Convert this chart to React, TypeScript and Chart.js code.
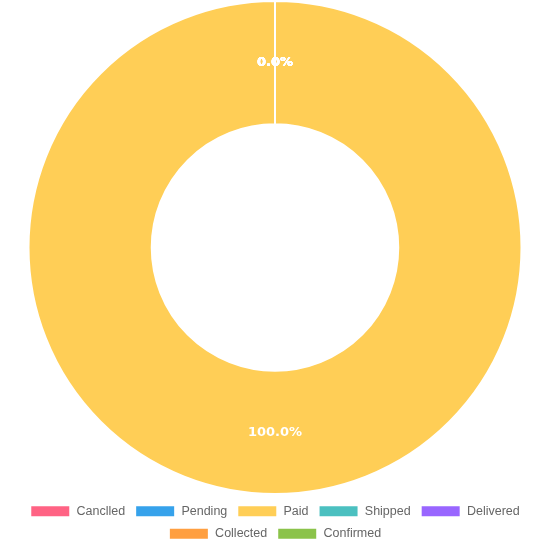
import React, { useEffect, useRef } from "react";
import { Chart, registerables } from "chart.js";

Chart.register(...registerables);

const categories = ["Canclled", "Pending", "Paid", "Shipped", "Delivered", "Collected", "Confirmed"];
const values = [0, 0, 100, 0, 0, 0, 0];
const colors = [
  "rgb(255, 99, 132)",
  "rgb(54, 162, 235)",
  "rgb(255, 206, 86)",
  "rgb(75, 192, 192)",
  "rgb(153, 102, 255)",
  "rgb(255, 159, 64)",
  "rgb(139, 195, 74)",
];

const pctLabels = {
  id: "pctLabels",
  afterDatasetsDraw(chart: any) {
    const ctx = chart.ctx;
    const meta = chart.getDatasetMeta(0);
    const data = chart.data.datasets[0].data as number[];
    const total = data.reduce((a, b) => a + b, 0);
    ctx.save();
    ctx.fillStyle = "#fff";
    ctx.font = "bold 13px 'DejaVu Sans', sans-serif";
    ctx.textAlign = "center";
    ctx.textBaseline = "middle";
    meta.data.forEach((arc: any, i: number) => {
      const p = arc.tooltipPosition();
      const pct = total ? (data[i] / total) * 100 : 0;
      ctx.fillText(pct.toFixed(1) + "%", p.x, p.y);
    });
    ctx.restore();
  },
};

export default function App() {
  const ref = useRef<HTMLCanvasElement>(null);
  useEffect(() => {
    if (!ref.current) return;
    const chart = new Chart(ref.current, {
      type: "doughnut",
      data: {
        labels: categories,
        datasets: [
          {
            data: values,
            backgroundColor: colors,
            borderColor: "#fff",
            borderWidth: 2,
          },
        ],
      },
      options: {
        animation: false,
        responsive: true,
        maintainAspectRatio: false,
        cutout: "50%",
        plugins: {
          legend: {
            position: "bottom",
            labels: {
              color: "#666",
              boxWidth: 40,
              boxHeight: 12,
              font: { family: "'Liberation Sans', Arial, sans-serif", size: 12.5 },
            },
          },
          tooltip: { enabled: false },
        },
      },
      plugins: [pctLabels],
    });
    return () => chart.destroy();
  }, []);
  return (
    <div style={{ position: "fixed", left: 0, top: 0, width: 550, height: 550 }}>
      <canvas ref={ref} />
    </div>
  );
}
